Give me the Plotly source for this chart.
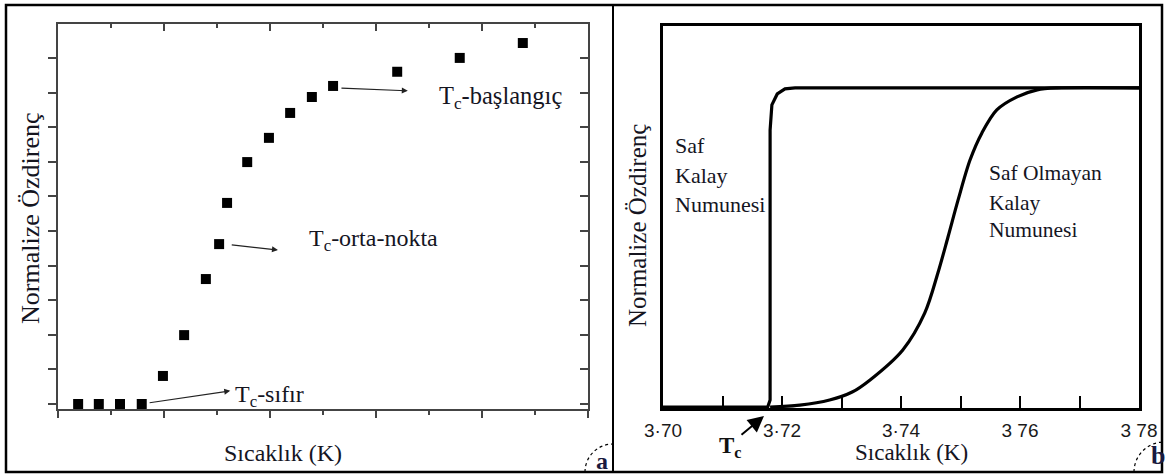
import plotly.graph_objects as go

# ---------------- data ----------------
# panel (a): normalized resistivity points (arbitrary temperature units)
temp_a = [0.38, 0.77, 1.17, 1.58, 1.98, 2.38, 2.79, 3.04, 3.19, 3.57, 3.98, 4.38, 4.79, 5.19, 6.40, 7.58, 8.77]
rho_a = [0.0, 0.0, 0.0, 0.0, 0.081, 0.199, 0.361, 0.462, 0.581, 0.699, 0.769, 0.841, 0.887, 0.919, 0.960, 1.0, 1.043]

# panel (b): pure tin sample
temp_pure = [3.700, 3.7176, 3.7180, 3.7180, 3.7183, 3.7192, 3.7205, 3.7222, 3.780]
rho_pure = [0.0, 0.0, 0.022, 0.868, 0.947, 0.981, 0.997, 1.0, 1.0]

# panel (b): impure tin sample
temp_impure = [3.7180, 3.7230, 3.7280, 3.7318, 3.7348, 3.7403, 3.7440, 3.7462, 3.7479, 3.7496,
               3.7516, 3.7536, 3.7561, 3.7595, 3.7629, 3.7662, 3.780]
rho_impure = [0.0, 0.006, 0.022, 0.047, 0.085, 0.179, 0.295, 0.420, 0.533, 0.649,
              0.774, 0.859, 0.931, 0.972, 0.994, 1.0, 1.0]

# tick labels of panel (b)
tick_vals_b = [3.70, 3.71, 3.72, 3.73, 3.74, 3.75, 3.76, 3.77, 3.78]
tick_text_b = ["3·70", "", "3·72", "", "3·74", "", "3 76", "", "3 78"]

W, H = 1166, 475
SERIF = "Liberation Serif, Times New Roman, DejaVu Serif, serif"
TXT = "#15151f"

fig = go.Figure()

fig.add_trace(go.Scatter(x=temp_a, y=rho_a, mode="markers", xaxis="x", yaxis="y",
                         marker=dict(symbol="square", size=10, color="black"),
                         showlegend=False, hoverinfo="skip"))
# empty trace so that the mirrored (inside-tick) axes of panel (a) are drawn
fig.add_trace(go.Scatter(x=[None], y=[None], mode="markers", xaxis="x3", yaxis="y3",
                         showlegend=False, hoverinfo="skip"))
fig.add_trace(go.Scatter(x=temp_pure, y=rho_pure, mode="lines", xaxis="x2", yaxis="y2",
                         line=dict(color="black", width=3.2), showlegend=False, hoverinfo="skip"))
fig.add_trace(go.Scatter(x=temp_impure, y=rho_impure, mode="lines", xaxis="x2", yaxis="y2",
                         line=dict(color="black", width=3.2, shape="spline", smoothing=0.9),
                         showlegend=False, hoverinfo="skip"))

def px(x):
    return x / W

def py(y):
    return (H - y) / H

ax_common = dict(showgrid=False, zeroline=False, showticklabels=False,
                 showline=True, linecolor="#444", linewidth=1.5,
                 tickcolor="#444", tickwidth=1.5)

XD = [px(58), px(588)]
YD = [py(409), py(24)]
XR = [0, 10]
YR = [-0.0145, 1.098]

layout = dict(
    width=W, height=H, margin=dict(l=0, r=0, t=0, b=0, autoexpand=False),
    paper_bgcolor="white", plot_bgcolor="white",
    xaxis=dict(domain=XD, range=XR, anchor="y", side="bottom",
               ticks="outside", ticklen=7, dtick=2, tick0=0,
               minor=dict(ticks="outside", ticklen=4, dtick=1, tickcolor="#444", tickwidth=1.5, showgrid=False),
               **ax_common),
    yaxis=dict(domain=YD, range=YR, anchor="x", side="left",
               ticks="outside", ticklen=8, dtick=0.1, tick0=0, **ax_common),
    xaxis3=dict(overlaying="x", side="top", anchor="y3", range=XR,
                ticks="inside", ticklen=7, dtick=2, tick0=0,
                minor=dict(ticks="inside", ticklen=4, dtick=1, tickcolor="#444", tickwidth=1.5, showgrid=False),
                **ax_common),
    yaxis3=dict(overlaying="y", side="right", anchor="x3", range=YR,
                ticks="inside", ticklen=8, dtick=0.1, tick0=0, **ax_common),
    xaxis2=dict(domain=[px(663), px(1139)], range=[3.70, 3.78], anchor="y2",
                showgrid=False, zeroline=False, showline=True, mirror=True,
                linecolor="black", linewidth=3,
                ticks="inside", ticklen=12, tickwidth=2, tickcolor="black",
                tickmode="array", tickvals=tick_vals_b, ticktext=tick_text_b,
                ticklabelstandoff=3,
                tickfont=dict(family="Liberation Sans", size=19, color="#1a1a1a")),
    yaxis2=dict(domain=[py(408), py(26)], range=[-0.003, 1.194], anchor="x2",
                showgrid=False, zeroline=False, showline=True, mirror=True,
                linecolor="black", linewidth=3, ticks="", showticklabels=False),
)

ann = []

def txt(x, y, s, size=22, xref="paper", yref="paper", xanchor="center", yanchor="middle",
        angle=0, bold=False, color=TXT, xshift=0):
    ann.append(dict(x=x, y=y, xref=xref, yref=yref, text=("<b>%s</b>" % s) if bold else s,
                    showarrow=False, xanchor=xanchor, yanchor=yanchor, textangle=angle,
                    xshift=xshift, font=dict(family=SERIF, size=size, color=color)))

# axis titles
txt(px(30), py(218), "Normalize Özdirenç", size=26, angle=-90)
txt(px(283), py(453), "Sıcaklık (K)", size=24)
txt(px(637), py(226), "Normalize Özdirenç", size=25, angle=-90)
txt(px(911), py(452), "Sıcaklık (K)", size=23)

# panel (a) labels
txt(7.15, 0.887, "T<sub>c</sub>-başlangıç", size=24.5, xref="x", yref="y", xanchor="left")
txt(4.70, 0.474, "T<sub>c</sub>-orta-nokta", size=24, xref="x", yref="y", xanchor="left")
txt(3.30, 0.022, "T<sub>c</sub>-sıfır", size=24, xref="x", yref="y", xanchor="left")

def arrow(x0, y0, x1, y1, xr="x", yr="y"):
    ann.append(dict(x=x1, y=y1, ax=x0, ay=y0, xref=xr, yref=yr, axref=xr, ayref=yr,
                    text="", showarrow=True, arrowhead=2, arrowsize=1, arrowwidth=1.2,
                    arrowcolor="#222"))

arrow(5.32, 0.913, 6.60, 0.905)
arrow(3.25, 0.46, 4.15, 0.445)
arrow(1.70, 0.003, 3.25, 0.038)

# panel (b) labels
for s, yy in zip(["Saf", "Kalay", "Numunesi"], [0.818, 0.724, 0.636]):
    txt(3.7017, yy, s, size=22, xref="x2", yref="y2", xanchor="left")
for s, yy in zip(["Saf Olmayan", "Kalay", "Numunesi"], [0.734, 0.639, 0.555]):
    txt(3.7545, yy, s, size=21.5, xref="x2", yref="y2", xanchor="left")

# Tc marker
txt(px(730), py(447), "T<sub>c</sub>", size=23, bold=True, color="#111")
ann.append(dict(x=px(764), y=py(416), xref="paper", yref="paper", ax=-24, ay=20,
                text="", showarrow=True, arrowhead=2, arrowsize=1.6, arrowwidth=2,
                arrowcolor="black"))

# panel letters
txt(px(602), py(461), "a", size=24, bold=True, color="#1a1a40")
txt(px(1149), py(455), "b", size=26, bold=True, color="#1a1a40", xanchor="left")

layout["annotations"] = ann

def qarc(cx, cy, r):
    k = 0.552 * r
    pts = [(cx - r, cy), (cx - r, cy - k), (cx - k, cy - r), (cx, cy - r)]
    p = [(px(a), py(b)) for a, b in pts]
    return "M %f %f C %f %f %f %f %f %f" % (p[0][0], p[0][1], p[1][0], p[1][1],
                                            p[2][0], p[2][1], p[3][0], p[3][1])

shapes = [
    dict(type="rect", xref="paper", yref="paper", x0=px(6), y0=py(472), x1=px(1162), y1=py(5),
         line=dict(color="black", width=2.5)),
    dict(type="line", xref="paper", yref="paper", x0=px(613), y0=py(472), x1=px(613), y1=py(5),
         line=dict(color="black", width=2)),
    dict(type="path", xref="paper", yref="paper", path=qarc(613, 472, 28),
         line=dict(color="black", width=1.2, dash="dot")),
    dict(type="path", xref="paper", yref="paper", path=qarc(1164, 472, 30),
         line=dict(color="black", width=1.2, dash="dot")),
]
layout["shapes"] = shapes

fig.update_layout(**layout)
fig.write_html("out.html")
